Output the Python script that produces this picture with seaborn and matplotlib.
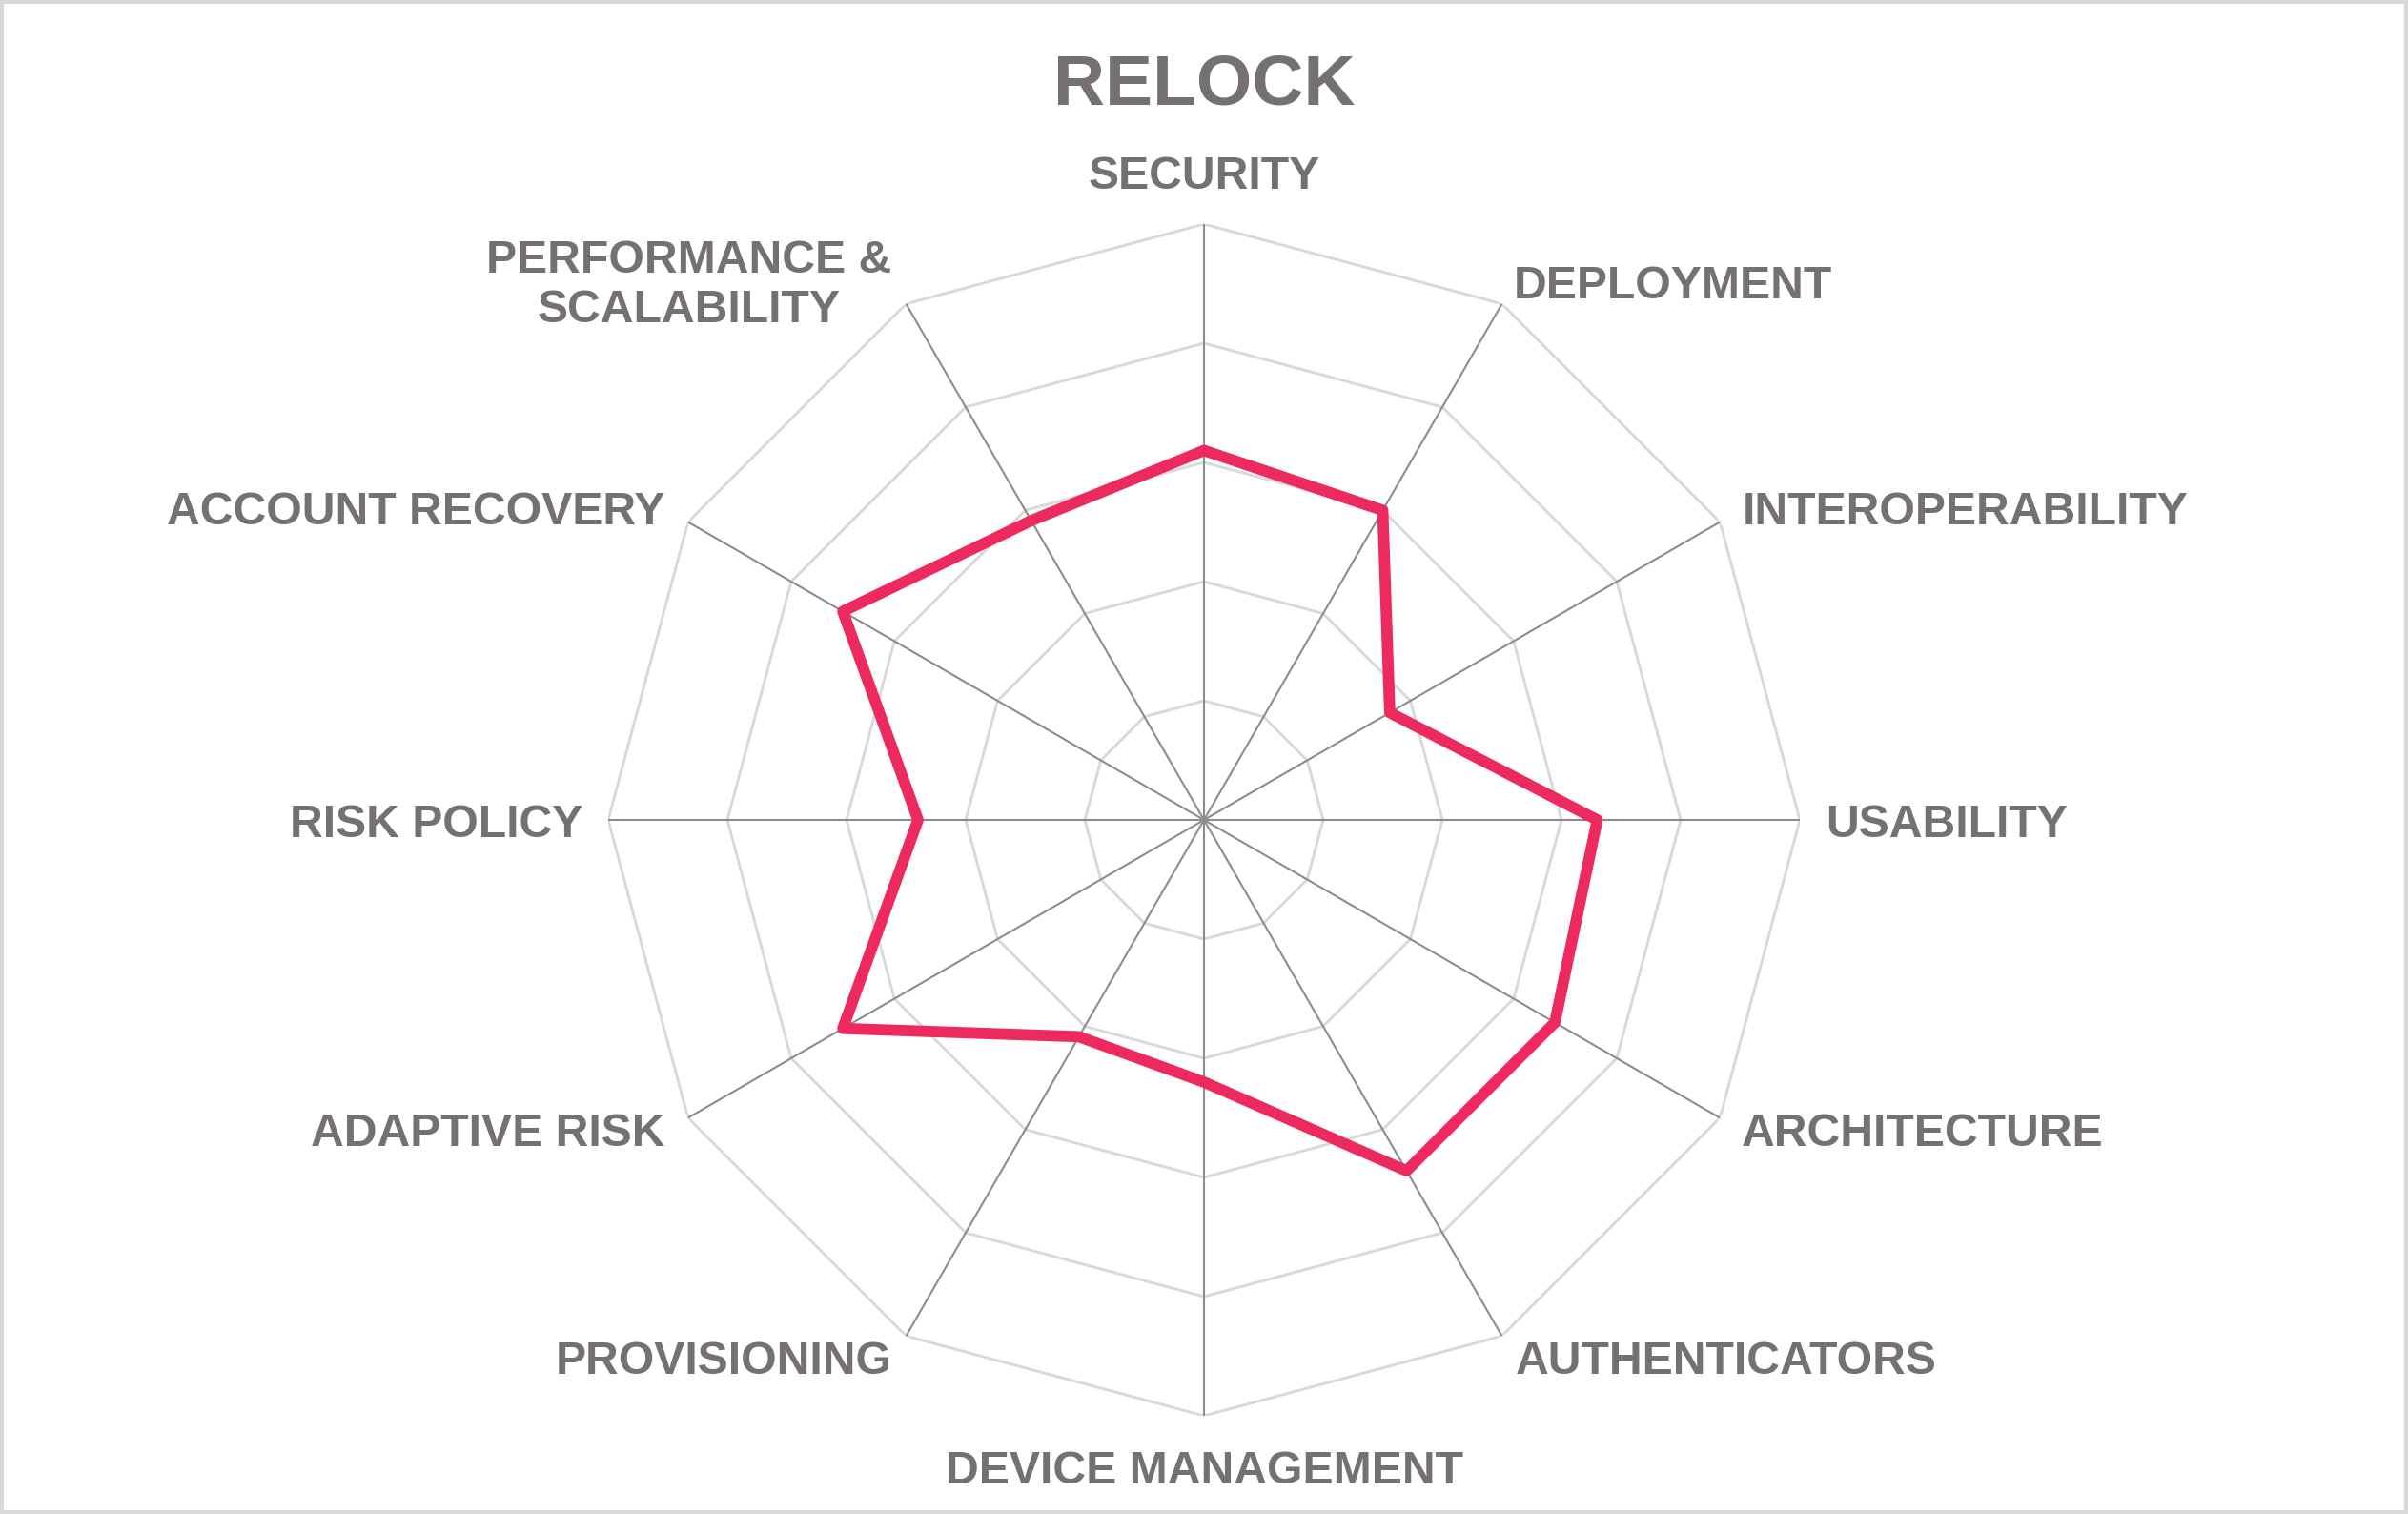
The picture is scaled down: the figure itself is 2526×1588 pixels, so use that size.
import numpy as np
import pandas as pd
import seaborn as sns
import matplotlib.pyplot as plt
from matplotlib.patches import Rectangle

# ---- data ----
categories = ["SECURITY", "DEPLOYMENT", "INTEROPERABILITY", "USABILITY",
              "ARCHITECTURE", "AUTHENTICATORS", "DEVICE MANAGEMENT",
              "PROVISIONING", "ADAPTIVE RISK", "RISK POLICY",
              "ACCOUNT RECOVERY", "PERFORMANCE &\nSCALABILITY"]
scores = [3.1, 3.0, 1.8, 3.3, 3.4, 3.4, 2.2, 2.1, 3.5, 2.4, 3.5, 2.9]
ring_levels = [1, 2, 3, 4, 5]
title = "RELOCK"

# ---- style ----
sns.set_theme(style="white")
plt.rcParams['font.family'] = ['Liberation Sans', 'DejaVu Sans']
TEXT = '#767171'
LINE = '#ED2A5E'

W, H = 2526, 1588
fig = plt.figure(figsize=(W / 100, H / 100), dpi=100)
fig.patch.set_facecolor('white')

cx, cy, R = 1263, 860, 625
ax = fig.add_axes([(cx - R) / W, (H - cy - R) / H, 2 * R / W, 2 * R / H],
                  projection='polar')
ax.set_theta_offset(np.pi / 2)
ax.set_theta_direction(-1)
ax.set_ylim(0, ring_levels[-1])
ax.grid(False)
ax.spines['polar'].set_visible(False)
ax.set_xticks([])
ax.set_yticks([])
ax.patch.set_alpha(0)

n = len(categories)
theta = np.arange(n) * 2 * np.pi / n
closed_theta = np.append(theta, theta[0])

for lvl in ring_levels:
    ax.plot(closed_theta, [lvl] * (n + 1), color='#D9D9D9', lw=2.1, zorder=1)
for t in theta:
    ax.plot([t, t], [0, ring_levels[-1]], color='#8C8C8C', lw=1.5, zorder=2)

df = pd.DataFrame({'theta': np.append(theta, 2 * np.pi),
                   'score': scores + scores[:1]})
sns.lineplot(data=df, x='theta', y='score', sort=False, color=LINE,
             lw=8.5, ax=ax, zorder=3)
ax.set_xlabel('')
ax.set_ylabel('')

# label placement (pixel offsets from outer vertex)
offsets = [(0, 49, 'center'), (12, 18, 'left'), (23, 10, 'left'),
           (27, -5, 'left'), (23, -17, 'left'), (14, -27, 'left'),
           (0, -59, 'center'), (-15, -27, 'right'), (-24, -17, 'right'),
           (-27, -5, 'right'), (-24, 10, 'right'), (-15, 19, 'right')]
for t, lab, (dx, dy, ha) in zip(theta, categories, offsets):
    ax.annotate(lab, xy=(t, ring_levels[-1]), xytext=(dx, dy),
                textcoords='offset pixels', ha=ha, va='center',
                multialignment='center', fontsize=34.7, fontweight='bold',
                color=TEXT, annotation_clip=False, linespacing=1.2)

fig.text(0.5, 1 - 90 / H, title, ha='center', va='center', fontsize=54,
         fontweight='bold', color=TEXT)

fig.patches.append(Rectangle((0, 0), 1, 1, transform=fig.transFigure,
                             fill=False, edgecolor='#D9D9D9', lw=5.8))

fig.savefig('out.png', dpi=100, facecolor='white')
